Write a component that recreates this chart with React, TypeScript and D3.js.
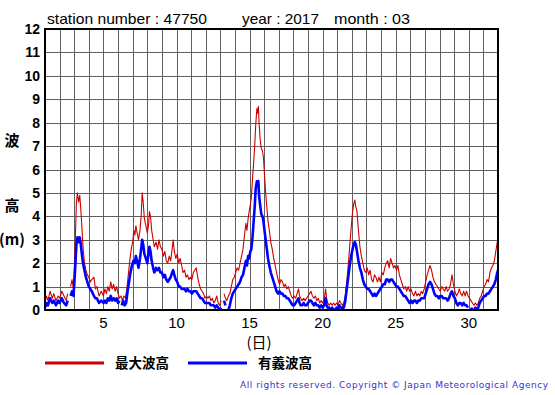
import { useEffect, useRef } from 'react';
import * as d3 from 'd3';

// time in days (1.0 = start of the 1st), height in m; null = missing
const maxWave: [number, number | null][] = [
  [1.0, 0.3], [1.1, 0.6], [1.2, 0.4], [1.35, 0.8], [1.5, 0.5], [1.6, 0.7], [1.75, 0.4], [1.9, 0.6],
  [2.0, 0.5], [2.15, 0.8], [2.3, 0.6], [2.45, 0.4], [2.55, 0.7], [2.65, null], [2.75, 1.0], [2.85, 1.3],
  [2.95, 0.9], [3.05, 2.5], [3.15, 4.6], [3.22, 5.0], [3.3, 4.6], [3.38, 4.9], [3.45, 4.3], [3.52, 3.6],
  [3.6, 2.7], [3.7, 2.0], [3.8, 1.7], [3.9, 1.5], [4.0, 1.4], [4.1, 1.2], [4.2, 1.3], [4.35, 1.4],
  [4.45, 0.9], [4.55, 1.0], [4.7, 0.6], [4.85, 0.8], [5.0, 0.6], [5.1, 0.9], [5.2, 0.7], [5.3, 1.0],
  [5.4, 0.8], [5.5, 1.2], [5.6, 0.9], [5.7, 1.1], [5.8, 0.8], [5.9, 1.0], [6.0, 0.7], [6.1, 0.5],
  [6.2, 0.6], [6.3, 0.4], [6.4, 0.6], [6.5, 0.5], [6.6, 0.9], [6.7, 1.5], [6.8, 2.1], [6.9, 2.6],
  [7.0, 2.9], [7.08, 3.4], [7.15, 3.2], [7.22, 3.6], [7.3, 3.3], [7.4, 3.0], [7.5, 3.4], [7.58, 4.0],
  [7.65, 5.0], [7.72, 4.6], [7.8, 3.9], [7.9, 3.6], [8.0, 3.3], [8.08, 3.6], [8.15, 4.2], [8.22, 4.0],
  [8.3, 3.4], [8.4, 3.0], [8.48, 2.7], [8.6, 2.9], [8.7, 2.6], [8.8, 3.0], [8.9, 2.7], [9.0, 2.6],
  [9.1, 2.3], [9.2, 2.5], [9.3, 2.1], [9.4, 2.0], [9.5, 2.3], [9.6, 2.1], [9.7, 2.6], [9.77, 3.0],
  [9.85, 2.5], [9.95, 2.2], [10.05, 2.4], [10.15, 2.0], [10.25, 2.2], [10.35, 1.9], [10.45, 1.6], [10.55, 1.7],
  [10.65, 1.4], [10.75, 1.5], [10.85, 1.3], [10.95, 1.4], [11.05, 1.3], [11.15, 1.6], [11.25, 1.7], [11.35, 1.8],
  [11.45, 1.4], [11.55, 1.1], [11.65, 0.9], [11.75, 0.8], [11.85, 0.7], [11.95, 0.5], [12.05, 0.6], [12.15, 0.5],
  [12.25, 0.6], [12.35, 0.4], [12.45, 0.5], [12.55, 0.3], [12.65, 0.4], [12.75, 0.6], [12.85, 0.3], [12.95, 0.2],
  [13.05, 0.4], [13.15, null], [13.25, 0.7], [13.35, 0.5], [13.45, 0.4], [13.55, 0.6], [13.65, 0.7], [13.75, 1.0],
  [13.85, 1.3], [13.95, 1.4], [14.05, 1.6], [14.15, 1.8], [14.25, 1.7], [14.35, 2.0], [14.45, 2.3], [14.55, 2.6],
  [14.65, 3.2], [14.75, 3.7], [14.82, 3.4], [14.9, 3.9], [14.97, 4.2], [15.05, 4.5], [15.12, 4.8], [15.2, 5.6],
  [15.28, 6.3], [15.35, 7.0], [15.42, 7.9], [15.5, 8.6], [15.55, 8.4], [15.6, 8.7], [15.65, 8.0], [15.72, 7.3],
  [15.8, 6.9], [15.88, 6.8], [15.95, 6.5], [16.02, 5.8], [16.1, 5.0], [16.18, 4.4], [16.26, 3.8], [16.35, 3.4],
  [16.45, 2.9], [16.55, 2.6], [16.65, 2.2], [16.75, 1.9], [16.85, 1.6], [16.95, 1.3], [17.05, 1.1], [17.15, 1.3],
  [17.25, 1.2], [17.35, 1.0], [17.45, 1.1], [17.55, 0.9], [17.65, 1.0], [17.75, 0.8], [17.85, 0.6], [17.95, 0.5],
  [18.05, 0.6], [18.15, 0.5], [18.25, 0.7], [18.35, 0.9], [18.42, 0.6], [18.5, 0.5], [18.6, 0.4], [18.7, 0.5],
  [18.8, 0.4], [18.9, 0.5], [19.0, 0.6], [19.1, 0.7], [19.2, 0.8], [19.3, 0.6], [19.4, 0.5], [19.5, 0.6],
  [19.6, 0.4], [19.7, 0.5], [19.8, 0.3], [19.9, 0.4], [20.0, 0.3], [20.1, 0.4], [20.2, 0.9], [20.27, 0.5],
  [20.35, 0.3], [20.45, 0.2], [20.55, 0.3], [20.65, 0.2], [20.75, 0.3], [20.85, 0.2], [20.95, 0.3], [21.05, 0.2],
  [21.15, 0.4], [21.25, 0.3], [21.35, 0.2], [21.45, 0.3], [21.55, 0.6], [21.65, 1.2], [21.75, 1.9], [21.85, 2.7],
  [21.95, 3.5], [22.05, 4.2], [22.12, 4.5], [22.2, 4.7], [22.27, 4.4], [22.35, 4.2], [22.45, 3.4], [22.55, 2.7],
  [22.65, 2.3], [22.75, 2.0], [22.85, 1.7], [22.95, 1.6], [23.05, 1.8], [23.15, 1.5], [23.25, 1.7], [23.35, 1.3],
  [23.45, 1.2], [23.55, 1.5], [23.65, 1.4], [23.75, 1.2], [23.85, 1.4], [23.95, 1.2], [24.05, 1.6], [24.15, 1.5],
  [24.25, 1.8], [24.35, 2.0], [24.45, 2.1], [24.55, 1.8], [24.65, 2.2], [24.75, 2.0], [24.85, 1.8], [24.95, 1.9],
  [25.05, 1.7], [25.15, 1.9], [25.25, 1.5], [25.35, 1.3], [25.45, 1.1], [25.55, 0.9], [25.65, 1.0], [25.75, 0.8],
  [25.85, 1.0], [25.95, 0.8], [26.05, 0.9], [26.15, 0.7], [26.25, 0.6], [26.35, 0.8], [26.45, 0.6], [26.55, 0.7],
  [26.65, 0.6], [26.75, 0.8], [26.85, 0.7], [26.95, 0.9], [27.05, 1.2], [27.15, 1.5], [27.25, 1.7], [27.35, 1.9],
  [27.45, 1.7], [27.55, 1.4], [27.65, 1.2], [27.75, 1.1], [27.85, 1.0], [27.95, 0.9], [28.05, 0.8], [28.15, 1.0],
  [28.25, 0.9], [28.35, 0.8], [28.45, 1.0], [28.55, 0.8], [28.65, 0.9], [28.75, 1.1], [28.85, 1.5], [28.95, 1.1],
  [29.05, 0.8], [29.15, 0.6], [29.25, 0.7], [29.35, 0.9], [29.45, 0.7], [29.55, 0.6], [29.65, 0.8], [29.75, 0.6],
  [29.85, 0.8], [29.95, 0.6], [30.05, 0.5], [30.15, 0.4], [30.25, 0.3], [30.35, 0.2], [30.45, 0.3], [30.55, 0.2],
  [30.65, 0.3], [30.75, 0.5], [30.85, 0.6], [30.95, 0.8], [31.05, 1.0], [31.15, 1.1], [31.25, 1.3], [31.35, 1.2],
  [31.45, 1.6], [31.55, 1.8], [31.65, 1.9], [31.75, 2.1], [31.85, 2.5], [31.95, 2.9], [32.0, 3.0],
];

const sigWave: [number, number | null][] = [
  [1.0, 0.1], [1.1, 0.3], [1.2, 0.2], [1.35, 0.5], [1.5, 0.3], [1.6, 0.4], [1.75, 0.2], [1.9, 0.4],
  [2.0, 0.3], [2.15, 0.5], [2.3, 0.3], [2.45, 0.2], [2.55, 0.4], [2.65, null], [2.75, 0.6], [2.85, 0.8],
  [2.95, 0.6], [3.05, 1.6], [3.15, 2.8], [3.22, 3.1], [3.3, 2.9], [3.38, 3.1], [3.45, 2.8], [3.52, 2.4],
  [3.6, 2.0], [3.7, 1.7], [3.8, 1.4], [3.9, 1.2], [4.0, 1.0], [4.1, 0.9], [4.2, 0.8], [4.35, 0.6],
  [4.45, 0.5], [4.55, 0.5], [4.7, 0.3], [4.85, 0.4], [5.0, 0.3], [5.1, 0.4], [5.2, 0.3], [5.3, 0.5],
  [5.4, 0.4], [5.5, 0.6], [5.6, 0.4], [5.7, 0.5], [5.8, 0.4], [5.9, 0.5], [6.0, 0.3], [6.1, 0.4],
  [6.18, null], [6.25, 0.2], [6.35, 0.4], [6.45, 0.2], [6.55, 0.3], [6.65, 0.8], [6.75, 1.2], [6.85, 1.6],
  [6.95, 1.9], [7.05, 2.1], [7.15, 2.0], [7.22, 2.3], [7.3, 2.1], [7.4, 1.8], [7.5, 2.2], [7.58, 2.6],
  [7.65, 3.0], [7.72, 2.8], [7.8, 2.4], [7.9, 2.2], [8.0, 2.0], [8.08, 2.4], [8.15, 2.7], [8.22, 2.5],
  [8.3, 2.1], [8.4, 1.8], [8.48, 1.6], [8.6, 1.8], [8.7, 1.7], [8.8, 1.8], [8.9, 1.6], [9.0, 1.6],
  [9.1, 1.4], [9.2, 1.5], [9.3, 1.3], [9.4, 1.2], [9.5, 1.3], [9.6, 1.4], [9.7, 1.6], [9.77, 1.7],
  [9.85, 1.5], [9.95, 1.3], [10.05, 1.2], [10.15, 1.0], [10.25, 1.0], [10.35, 0.9], [10.45, 0.9], [10.55, 0.9],
  [10.65, 0.8], [10.75, 0.9], [10.85, 0.8], [10.95, 0.8], [11.05, 0.7], [11.15, 0.8], [11.25, 0.8], [11.35, 0.8],
  [11.45, 0.7], [11.55, 0.6], [11.65, 0.5], [11.75, 0.5], [11.85, 0.4], [11.95, 0.3], [12.05, 0.3], [12.15, 0.3],
  [12.25, 0.3], [12.35, 0.2], [12.45, 0.2], [12.55, 0.2], [12.65, 0.1], [12.75, 0.2], [12.85, 0.1], [12.95, 0.0],
  [13.05, 0.1], [13.15, null], [13.25, 0.4], [13.35, 0.2], [13.45, null], [13.55, 0.0], [13.65, 0.2], [13.75, 0.5],
  [13.85, 0.7], [13.95, 0.8], [14.05, 0.9], [14.15, 1.0], [14.25, 1.1], [14.35, 1.2], [14.45, 1.4], [14.55, 1.5],
  [14.65, 1.8], [14.75, 2.1], [14.82, 1.9], [14.9, 2.3], [14.97, 2.2], [15.05, 2.5], [15.12, 2.6], [15.2, 3.1],
  [15.28, 3.8], [15.35, 4.4], [15.42, 5.2], [15.5, 5.5], [15.55, 5.4], [15.6, 5.5], [15.65, 4.9], [15.72, 4.5],
  [15.8, 4.1], [15.88, 4.0], [15.95, 3.8], [16.02, 3.4], [16.1, 3.0], [16.18, 2.6], [16.26, 2.2], [16.35, 1.9],
  [16.45, 1.6], [16.55, 1.4], [16.65, 1.2], [16.75, 1.0], [16.85, 0.8], [16.95, 0.7], [17.05, 0.8], [17.15, 0.7],
  [17.25, 0.7], [17.35, 0.6], [17.45, 0.6], [17.55, 0.5], [17.65, 0.5], [17.75, 0.4], [17.85, 0.3], [17.95, 0.2],
  [18.05, 0.2], [18.15, 0.3], [18.25, 0.4], [18.35, 0.5], [18.42, 0.3], [18.5, 0.2], [18.6, 0.2], [18.7, 0.3],
  [18.8, 0.2], [18.9, 0.2], [19.0, 0.3], [19.1, 0.4], [19.2, 0.4], [19.3, 0.3], [19.4, 0.2], [19.5, 0.3],
  [19.6, 0.2], [19.7, 0.2], [19.8, 0.1], [19.9, 0.2], [20.0, 0.1], [20.1, 0.2], [20.2, 0.5], [20.27, 0.2],
  [20.35, 0.1], [20.45, 0.1], [20.55, 0.0], [20.65, 0.1], [20.75, 0.0], [20.85, 0.0], [20.95, 0.1], [21.05, 0.0],
  [21.15, 0.2], [21.25, 0.1], [21.35, 0.1], [21.45, 0.1], [21.55, 0.4], [21.65, 0.9], [21.75, 1.4], [21.85, 1.9],
  [21.95, 2.3], [22.05, 2.6], [22.12, 2.8], [22.2, 2.9], [22.27, 2.8], [22.35, 2.5], [22.45, 2.1], [22.55, 1.8],
  [22.65, 1.6], [22.75, 1.3], [22.85, 1.1], [22.95, 1.0], [23.05, 0.9], [23.15, 0.9], [23.25, 0.8], [23.35, 0.7],
  [23.45, 0.6], [23.55, 0.7], [23.65, 0.6], [23.75, 0.7], [23.85, 0.8], [23.95, 0.9], [24.05, 1.0], [24.15, 1.1],
  [24.25, 1.1], [24.35, 1.3], [24.45, 1.3], [24.55, 1.2], [24.65, 1.3], [24.75, 1.3], [24.85, 1.2], [24.95, 1.1],
  [25.05, 1.0], [25.15, 1.0], [25.25, 0.9], [25.35, 0.8], [25.45, 0.7], [25.55, 0.6], [25.65, 0.6], [25.75, 0.5],
  [25.85, 0.4], [25.95, 0.3], [26.05, 0.4], [26.15, 0.3], [26.25, 0.4], [26.35, 0.4], [26.45, 0.3], [26.55, 0.4],
  [26.65, 0.4], [26.75, 0.5], [26.85, 0.5], [26.95, 0.5], [27.05, 0.7], [27.15, 0.9], [27.25, 1.1], [27.35, 1.2],
  [27.45, 1.1], [27.55, 0.9], [27.65, 0.7], [27.75, 0.6], [27.85, 0.6], [27.95, 0.5], [28.05, 0.6], [28.15, 0.6],
  [28.25, 0.5], [28.35, 0.5], [28.45, 0.5], [28.55, 0.4], [28.65, 0.5], [28.75, 0.7], [28.85, 0.8], [28.95, 0.6],
  [29.05, 0.5], [29.15, 0.3], [29.25, 0.2], [29.35, 0.3], [29.45, 0.3], [29.55, 0.2], [29.65, 0.3], [29.75, 0.2],
  [29.85, 0.2], [29.95, 0.1], [30.05, null], [30.15, 0.1], [30.25, 0.0], [30.35, 0.0], [30.45, 0.1], [30.55, 0.0],
  [30.65, 0.1], [30.75, 0.3], [30.85, 0.4], [30.95, 0.5], [31.05, 0.6], [31.15, 0.6], [31.25, 0.7], [31.35, 0.7],
  [31.45, 0.8], [31.55, 0.9], [31.65, 1.0], [31.75, 1.1], [31.85, 1.3], [31.95, 1.6], [32.0, 1.7],
];

const yTicks = [0, 1, 2, 3, 4, 5, 6, 7, 8, 9, 10, 11, 12];
const xTickLabels = [5, 10, 15, 20, 25, 30];
const dayLines = d3.range(2, 32);

const titleParts = [
  { text: 'station number : 47750', x: 47, w: 160 },
  { text: 'year : 2017', x: 242, w: 77 },
  { text: 'month : 03', x: 334, w: 76 },
];

const seriesInfo = [
  { name: '最大波高', data: maxWave, color: '#cc0000', width: 1.1 },
  { name: '有義波高', data: sigWave, color: '#0000ff', width: 2.6 },
];

const W = 555;
const H = 395;
const plot = { left: 45, right: 498, top: 29, bottom: 310 };
const sans = '"Liberation Sans", Arial, sans-serif';
const jp = '"Noto Sans CJK JP", sans-serif';

export default function App() {
  const svgRef = useRef<SVGSVGElement>(null);

  useEffect(() => {
    if (!svgRef.current) return;
    const svg = d3.select(svgRef.current);
    svg.selectAll('*').remove();

    const x = d3.scaleLinear().domain([1, 32]).range([plot.left, plot.right]);
    const y = d3.scaleLinear().domain([0, 12]).range([plot.bottom, plot.top]);

    svg.append('rect').attr('width', W).attr('height', H).attr('fill', '#fff');

    // title
    svg.selectAll('text.title')
      .data(titleParts)
      .join('text')
      .attr('class', 'title')
      .attr('x', d => d.x)
      .attr('y', 24)
      .attr('font-family', sans)
      .attr('font-size', 15)
      .attr('textLength', d => d.w)
      .attr('lengthAdjust', 'spacingAndGlyphs')
      .attr('fill', '#000')
      .text(d => d.text);

    // grid
    const grid = svg.append('g').attr('stroke', '#606060').attr('stroke-width', 1);
    grid.selectAll('line.v')
      .data(dayLines)
      .join('line')
      .attr('x1', d => Math.round(x(d)) + 0.5)
      .attr('x2', d => Math.round(x(d)) + 0.5)
      .attr('y1', plot.top)
      .attr('y2', plot.bottom);
    grid.selectAll('line.h')
      .data(yTicks.slice(1, -1))
      .join('line')
      .attr('x1', plot.left)
      .attr('x2', plot.right)
      .attr('y1', d => Math.round(y(d)) + 0.5)
      .attr('y2', d => Math.round(y(d)) + 0.5);

    // series
    svg.append('clipPath').attr('id', 'plotclip')
      .append('rect')
      .attr('x', plot.left).attr('y', plot.top)
      .attr('width', plot.right - plot.left).attr('height', plot.bottom - plot.top);

    const line = d3.line<[number, number | null]>()
      .defined(d => d[1] != null)
      .x(d => x(d[0]))
      .y(d => y(d[1] as number));

    svg.append('g').attr('clip-path', 'url(#plotclip)')
      .selectAll('path')
      .data(seriesInfo)
      .join('path')
      .attr('d', d => line(d.data))
      .attr('fill', 'none')
      .attr('stroke', d => d.color)
      .attr('stroke-width', d => d.width)
      .attr('stroke-linejoin', 'round');

    // frame
    svg.append('rect')
      .attr('x', plot.left).attr('y', plot.top)
      .attr('width', plot.right - plot.left).attr('height', plot.bottom - plot.top)
      .attr('fill', 'none').attr('stroke', '#000').attr('stroke-width', 2);

    // y labels
    svg.selectAll('text.ytick')
      .data(yTicks)
      .join('text')
      .attr('class', 'ytick')
      .attr('x', 40)
      .attr('y', d => y(d) + 5)
      .attr('text-anchor', 'end')
      .attr('font-family', sans)
      .attr('font-weight', 'bold')
      .attr('font-size', 14)
      .text(d => d);

    // x labels
    svg.selectAll('text.xtick')
      .data(xTickLabels)
      .join('text')
      .attr('class', 'xtick')
      .attr('x', d => x(d))
      .attr('y', 328)
      .attr('text-anchor', 'middle')
      .attr('font-family', sans)
      .attr('font-size', 15)
      .text(d => d);

    svg.append('text')
      .attr('x', 259).attr('y', 348)
      .attr('text-anchor', 'middle')
      .attr('font-family', jp)
      .attr('font-size', 15)
      .text('(日)');

    // y axis title
    const yTitle = [
      { t: '波', y: 146 },
      { t: '高', y: 211 },
      { t: '(m)', y: 245 },
    ];
    svg.selectAll('text.ytitle')
      .data(yTitle)
      .join('text')
      .attr('class', 'ytitle')
      .attr('x', 12)
      .attr('y', d => d.y)
      .attr('text-anchor', 'middle')
      .attr('font-family', jp)
      .attr('font-weight', 'bold')
      .attr('font-size', 15)
      .text(d => d.t);

    // legend
    const legendPos = [
      { lx: 45, tx: 115 },
      { lx: 188, tx: 258 },
    ];
    const leg = svg.selectAll('g.leg')
      .data(seriesInfo)
      .join('g')
      .attr('class', 'leg');
    leg.append('line')
      .attr('x1', (d, i) => legendPos[i].lx)
      .attr('x2', (d, i) => legendPos[i].lx + 59)
      .attr('y1', 363).attr('y2', 363)
      .attr('stroke', d => d.color)
      .attr('stroke-width', 3);
    leg.append('text')
      .attr('x', (d, i) => legendPos[i].tx)
      .attr('y', 368)
      .attr('font-family', jp)
      .attr('font-weight', 'bold')
      .attr('font-size', 13.5)
      .text(d => d.name);

    svg.append('text')
      .attr('x', 240).attr('y', 388)
      .attr('font-family', '"DejaVu Sans", Verdana, sans-serif')
      .attr('font-size', 9)
      .attr('textLength', 308)
      .attr('lengthAdjust', 'spacing')
      .attr('fill', '#3333cc')
      .text('All rights reserved. Copyright © Japan Meteorological Agency');
  }, []);

  return (
    <svg
      ref={svgRef}
      width={W}
      height={H}
      style={{ position: 'absolute', left: 0, top: 0, display: 'block' }}
    />
  );
}
